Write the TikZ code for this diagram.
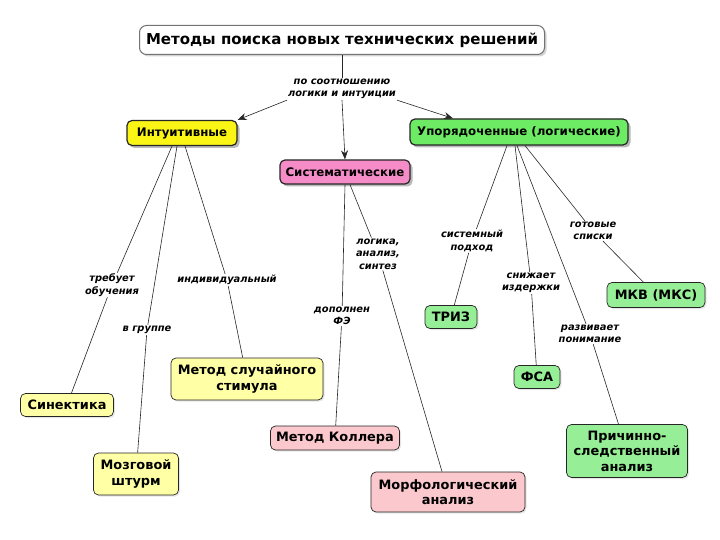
\documentclass[tikz,border=0pt]{standalone}
\usepackage{fontspec}
\setmainfont{DejaVu Sans}
\usetikzlibrary{shadows,arrows.meta}
\definecolor{yelA}{RGB}{250,245,20}
\definecolor{yelB}{RGB}{255,255,165}
\definecolor{pinkA}{RGB}{245,140,200}
\definecolor{pinkB}{RGB}{250,200,205}
\definecolor{grnA}{RGB}{110,235,100}
\definecolor{grnB}{RGB}{150,238,150}
\tikzset{
  box/.style={draw=black!85, rounded corners=5pt, align=center, inner sep=2pt},
  titlebox/.style={box, draw=black!55, line width=1pt, fill=white, rounded corners=7pt,
     font=\fontsize{15}{17}\selectfont\bfseries,
     drop shadow={shadow xshift=2pt, shadow yshift=-2pt, opacity=0.35}},
  topbox/.style={box, line width=1.2pt, font=\fontsize{11.8}{14}\selectfont\bfseries,
     drop shadow={shadow xshift=2.5pt, shadow yshift=-2.5pt, opacity=0.55}},
  leafbox/.style={box, line width=0.7pt, font=\fontsize{12.9}{15.5}\selectfont\bfseries,
     drop shadow={shadow xshift=1.5pt, shadow yshift=-1.5pt, opacity=0.2}},
  lab/.style={fill=white, inner sep=1pt, align=center,
     font=\fontsize{9.9}{12.3}\selectfont\bfseries\itshape},
  edge/.style={draw=black!85, line width=0.6pt},
  arr/.style={edge, -{Stealth[length=9pt,width=7pt]}},
}
\begin{document}
\begin{tikzpicture}[x=1pt,y=-1pt]
\useasboundingbox (0,0) rectangle (720,540);
% nodes
\node[titlebox, minimum width=405pt, minimum height=29pt] (title) at (342,40) {Методы поиска новых технических решений};
\node[lab] (crit) at (342,89) {по соотношению\\логики и интуиции};
\node[topbox, fill=yelA, minimum width=110pt, minimum height=25pt] (int) at (182,133) {Интуитивные};
\node[topbox, fill=pinkA, minimum width=130pt, minimum height=24pt] (sys) at (345,172) {Систематические};
\node[topbox, fill=grnA, minimum width=218pt, minimum height=26pt] (ord) at (519,132) {Упорядоченные (логические)};

\node[leafbox, fill=yelB, minimum width=93pt, minimum height=23pt] (sin) at (67,405) {Синектика};
\node[leafbox, fill=yelB, minimum width=85pt, minimum height=42pt] (brain) at (136,474) {Мозговой\\штурм};
\node[leafbox, fill=yelB, minimum width=152pt, minimum height=42pt] (rand) at (247,379) {Метод случайного\\стимула};
\node[leafbox, fill=pinkB, minimum width=129pt, minimum height=24pt] (koll) at (335,438) {Метод Коллера};
\node[leafbox, fill=pinkB, minimum width=154pt, minimum height=40pt] (morph) at (448,492) {Морфологический\\анализ};
\node[leafbox, fill=grnB, minimum width=52pt, minimum height=23pt] (triz) at (451,317) {ТРИЗ};
\node[leafbox, fill=grnB, minimum width=46pt, minimum height=23pt] (fsa) at (537,377) {ФСА};
\node[leafbox, fill=grnB, minimum width=98pt, minimum height=25pt] (mkv) at (656,295) {МКВ (МКС)};
\node[leafbox, fill=grnB, minimum width=121pt, minimum height=53pt] (cause) at (627,451) {Причинно-\\следственный\\анализ};

% edge labels
\node[lab] (lTreb) at (112,285) {требует\\обучения};
\node[lab] (lGr) at (147,330) {в группе};
\node[lab] (lInd) at (227,280) {индивидуальный};
\node[lab] (lDop) at (342,316) {дополнен\\ФЭ};
\node[lab] (lLog) at (378,254) {логика,\\анализ,\\синтез};
\node[lab] (lSys) at (472,241) {системный\\подход};
\node[lab] (lSn) at (531,283) {снижает\\издержки};
\node[lab] (lRaz) at (590,334) {развивает\\понимание};
\node[lab] (lGot) at (593,231) {готовые\\списки};

% connectors
\draw[edge] (title) -- (crit);
\draw[arr] (crit.south west) -- (int.north east);
\draw[arr] (crit.south east) -- ([xshift=-66pt]ord.north);
\draw[arr] (crit.south) -- (sys.north);

\draw[edge] ([xshift=-10pt]int.south) -- (lTreb) -- (sin);
\draw[edge] ([xshift=-5pt]int.south) -- (lGr) -- (brain);
\draw[edge] ([xshift=3pt]int.south) -- (lInd) -- (rand);

\draw[edge] (sys.south) -- (lDop) -- (koll);
\draw[edge] ([xshift=5pt]sys.south) -- (lLog) -- (morph);

\draw[edge] ([xshift=-12pt]ord.south) -- (lSys) -- (triz);
\draw[edge] ([xshift=-4pt]ord.south) -- (lSn) -- (fsa);
\draw[edge] ([xshift=-2pt]ord.south) -- (lRaz) -- (cause);
\draw[edge] ([xshift=6pt]ord.south) -- (lGot) -- (mkv);
\end{tikzpicture}
\end{document}
